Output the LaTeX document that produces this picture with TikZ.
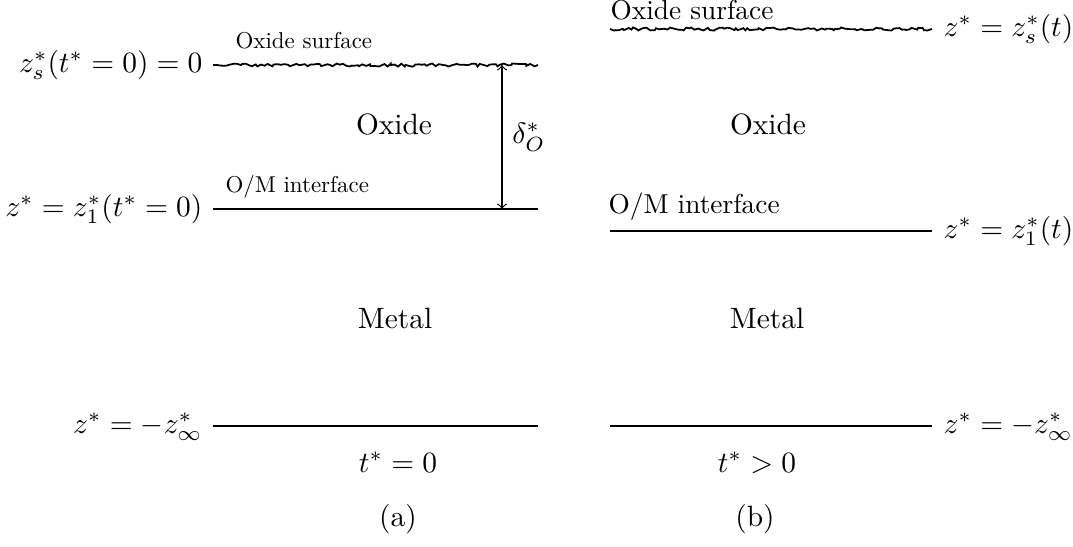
\documentclass[tikz,border=0pt]{standalone}
\usetikzlibrary{decorations.pathmorphing}
\begin{document}
\begin{tikzpicture}[x=0.34pt,y=-0.34pt,
 rough/.style={semithick,decorate,decoration={random steps,segment length=1pt,amplitude=0.55pt}},
 flat/.style={semithick},
 ar/.style={<->,thin},
 lbla/.style={anchor=base west,inner sep=0pt},
 lblb/.style={anchor=base west,inner sep=0pt},
 eqa/.style={anchor=base east,inner sep=0pt},
 eqb/.style={anchor=base west,inner sep=0pt},
 ctr/.style={anchor=base,inner sep=0pt}]
\useasboundingbox (0,0) rectangle (1073,547);
\pgfmathsetseed{11}
% panel (a)
\coordinate (as1) at (213,65); \coordinate (as2) at (538,65);
\coordinate (ai1) at (213,209); \coordinate (ai2) at (538,209);
\coordinate (ab1) at (213,426); \coordinate (ab2) at (538,426);
\coordinate (aat) at (502,65); \coordinate (aab) at (502,209);
\draw[rough] (as1) -- (as2);
\draw[flat] (ai1) -- (ai2);
\draw[flat] (ab1) -- (ab2);
\draw[ar] (aat) -- node[right] (delta) {$\delta_O^*$} (aab);
\node[lbla] (asurf) at (235,49) {\scalebox{0.78}{Oxide surface}};
\node[lbla] (aiface) at (225,193) {\scalebox{0.78}{O/M interface}};
\node[eqa] (aeqs) at (203,72.5) {$z_s^*(t^*=0)=0$};
\node[eqa] (aeqi) at (203,216.5) {$z^*=z_1^*(t^*=0)$};
\node[eqa] (aeqb) at (203,433.5) {$z^*=-z_\infty^*$};
\node[ctr] (aox) at (394,135) {Oxide};
\node[ctr] (ame) at (395,329) {Metal};
\node[ctr] (at) at (398,472) {$t^*=0$};
\node[ctr] (acap) at (398,526) {(a)};
% panel (b)
\coordinate (bs1) at (610,29); \coordinate (bs2) at (932,29);
\coordinate (bi1) at (610,231); \coordinate (bi2) at (932,231);
\coordinate (bb1) at (610,426); \coordinate (bb2) at (932,426);
\draw[rough] (bs1) -- (bs2);
\draw[flat] (bi1) -- (bi2);
\draw[flat] (bb1) -- (bb2);
\node[lblb] (bsurf) at (610,20) {\scalebox{0.93}{Oxide surface}};
\node[lblb] (biface) at (608,214) {\scalebox{0.93}{O/M interface}};
\node[eqb] (beqs) at (943,36.5) {$z^*=z_s^*(t)$};
\node[eqb] (beqi) at (943,238.5) {$z^*=z_1^*(t)$};
\node[eqb] (beqb) at (943,433.5) {$z^*=-z_\infty^*$};
\node[ctr] (box) at (768,135) {Oxide};
\node[ctr] (bme) at (767,329) {Metal};
\node[ctr] (bt) at (757,472) {$t^*>0$};
\node[ctr] (bcap) at (755,526) {(b)};
\end{tikzpicture}
\end{document}
